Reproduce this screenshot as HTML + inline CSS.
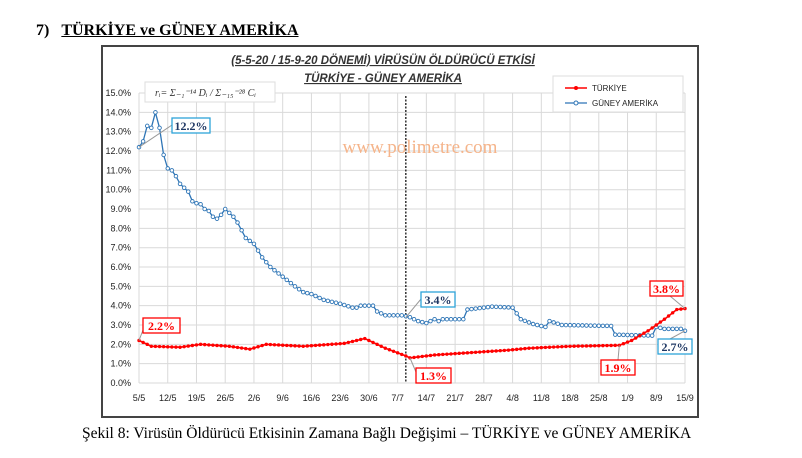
<!DOCTYPE html>
<html><head><meta charset="utf-8"><style>
body{margin:0;background:#fff;width:802px;height:458px;overflow:hidden;position:relative;font-family:"Liberation Sans",sans-serif}
.t{position:absolute;font-family:"Liberation Serif",serif}
</style></head><body>
<div class="t" style="left:36px;top:22px;font-size:16px;font-weight:bold">7)&nbsp;&nbsp;&nbsp;<span style="text-decoration:underline">TÜRKİYE ve GÜNEY AMERİKA</span></div>
<div class="t" style="left:82px;top:425px;font-size:15.5px">Şekil 8: Virüsün Öldürücü Etkisinin Zamana Bağlı Değişimi – TÜRKİYE ve GÜNEY AMERİKA</div>
<svg id="s" width="802" height="458" style="position:absolute;left:0;top:0">
<rect x="102" y="46" width="596" height="371" fill="none" stroke="#444" stroke-width="2"/>
</svg>
<script>
const s=document.getElementById('s');const N='http://www.w3.org/2000/svg';
function el(t,a,txt){const e=document.createElementNS(N,t);for(const k in a)e.setAttribute(k,a[k]);if(txt!==undefined)e.textContent=txt;s.appendChild(e);return e}
const X0=139,X1=685,Y0=383,PY=19.33,PD=(X1-X0)/133;
const X=d=>X0+d*PD,Y=v=>Y0-v*PY;
for(let i=0;i<=15;i++){el('line',{x1:X0,x2:X1,y1:Y(i),y2:Y(i),stroke:'#d9d9d9','stroke-width':1});
el('text',{x:131,y:Y(i)+3,'font-size':9,'text-anchor':'end',fill:'#222'},i.toFixed(1)+'%');}
const labs=['5/5','12/5','19/5','26/5','2/6','9/6','16/6','23/6','30/6','7/7','14/7','21/7','28/7','4/8','11/8','18/8','25/8','1/9','8/9','15/9'];
labs.forEach((l,i)=>{const d=i*7;el('line',{x1:X(d),x2:X(d),y1:Y(15),y2:Y0,stroke:'#d9d9d9'});
el('text',{x:X(d),y:401,'font-size':9,'text-anchor':'middle',fill:'#222'},l);});
el('line',{x1:X(65),x2:X(65),y1:96,y2:Y0,stroke:'#000','stroke-dasharray':'2,1.5','stroke-width':1.2});
el('text',{x:420,y:153,'font-size':19,fill:'#f5b48a','text-anchor':'middle','font-family':'Liberation Serif'},'www.polimetre.com');
function interp(k){const a=[];for(let d=0;d<=133;d++){let i=0;while(i<k.length-2&&k[i+1][0]<d)i++;const [d0,v0]=k[i],[d1,v1]=k[i+1];a.push(v0+(v1-v0)*Math.max(0,Math.min(1,(d-d0)/(d1-d0))));}return a}
const B=interp([[0,12.2],[1,12.5],[2,13.3],[3,13.2],[4,14.0],[5,13.2],[6,11.8],[7,11.1],[8,11.0],[9,10.7],[10,10.3],[11,10.1],[12,9.9],[13,9.4],[14,9.3],[15,9.25],[16,9.0],[17,8.9],[18,8.6],[19,8.5],[20,8.7],[21,9.0],[22,8.8],[23,8.6],[24,8.3],[26,7.5],[28,7.2],[30,6.5],[32,6.0],[35,5.5],[38,5.0],[40,4.7],[42,4.6],[45,4.3],[49,4.1],[52,3.9],[53,3.9],[54,4.0],[57,4.0],[58,3.7],[60,3.5],[64,3.5],[66,3.4],[68,3.2],[70,3.1],[72,3.3],[73,3.2],[74,3.3],[79,3.3],[80,3.8],[84,3.9],[86,3.95],[91,3.9],[93,3.3],[96,3.05],[99,2.9],[100,3.2],[103,3.0],[115,2.95],[116,2.5],[125,2.45],[126,2.9],[128,2.8],[132,2.8],[133,2.7]]);
const R=interp([[0,2.2],[3,1.9],[10,1.85],[15,2.0],[22,1.9],[27,1.75],[31,2.0],[40,1.9],[50,2.05],[55,2.3],[60,1.8],[65,1.4],[66,1.3],[72,1.45],[90,1.7],[95,1.8],[105,1.9],[117,1.95],[120,2.2],[124,2.7],[128,3.3],[131,3.8],[133,3.85]]);
const pts=a=>a.map((v,d)=>X(d).toFixed(1)+','+Y(v).toFixed(1)).join(' ');
el('polyline',{points:pts(B),fill:'none',stroke:'#2e75b6','stroke-width':1.3});
B.forEach((v,d)=>el('circle',{cx:X(d),cy:Y(v),r:1.8,fill:'#fff',stroke:'#2e75b6','stroke-width':0.9}));
el('polyline',{points:pts(R),fill:'none',stroke:'#f00','stroke-width':1.6});
R.forEach((v,d)=>el('circle',{cx:X(d),cy:Y(v),r:1.7,fill:'#f00'}));
el('text',{x:383,y:64,'font-size':11.5,'font-weight':'bold','font-style':'italic','text-anchor':'middle','text-decoration':'underline',fill:'#333'},'(5-5-20 / 15-9-20 DÖNEMİ) VİRÜSÜN ÖLDÜRÜCÜ ETKİSİ');
el('text',{x:383,y:82,'font-size':11.5,'font-weight':'bold','font-style':'italic','text-anchor':'middle','text-decoration':'underline',fill:'#333'},'TÜRKİYE - GÜNEY AMERİKA');
el('rect',{x:145,y:82,width:130,height:20,fill:'#fff',stroke:'#ddd'});
el('text',{x:155,y:96,'font-size':10,'font-family':'Liberation Serif','font-style':'italic',fill:'#333'},'rᵢ= Σ₋₁⁻¹⁴ Dᵢ / Σ₋₁₅⁻²⁸ Cᵢ');
el('rect',{x:553,y:76,width:130,height:36,fill:'#fff',stroke:'#ddd'});
el('line',{x1:565,x2:587,y1:88,y2:88,stroke:'#f00','stroke-width':1.6});el('circle',{cx:576,cy:88,r:2,fill:'#f00'});
el('text',{x:592,y:91,'font-size':8,fill:'#222'},'TÜRKİYE');
el('line',{x1:565,x2:587,y1:103,y2:103,stroke:'#2e75b6','stroke-width':1.3});el('circle',{cx:576,cy:103,r:2,fill:'#fff',stroke:'#2e75b6'});
el('text',{x:592,y:106,'font-size':8,fill:'#222'},'GÜNEY AMERİKA');
function call(x,y,w,t,c,tc,lx1,ly1,lx2,ly2){el('line',{x1:lx1,y1:ly1,x2:lx2,y2:ly2,stroke:'#999'});
el('rect',{x:x,y:y,width:w,height:15,fill:'#fff',stroke:c,'stroke-width':1.3});
el('text',{x:x+w/2,y:y+12,'font-size':12,'font-weight':'bold','font-family':'Liberation Serif','text-anchor':'middle',fill:tc},t);}
call(172,118,38,'12.2%','#2ea3d9','#1f3864',X(0),Y(12.2),172,125);
call(143,318,37,'2.2%','#f00','#f00',X(0),Y(2.2),143,330);
call(421,292,34,'3.4%','#2ea3d9','#1f3864',X(65),Y(3.4),421,299);
call(416,368,35,'1.3%','#f00','#f00',X(66),Y(1.3),416,372);
call(601,360,34,'1.9%','#f00','#f00',X(117),Y(1.95),618,360);
call(650,281,33,'3.8%','#f00','#f00',X(133),Y(3.85),670,296);
call(658,339,34,'2.7%','#2ea3d9','#1f3864',X(133),Y(2.7),670,339);
</script>
</body></html>
